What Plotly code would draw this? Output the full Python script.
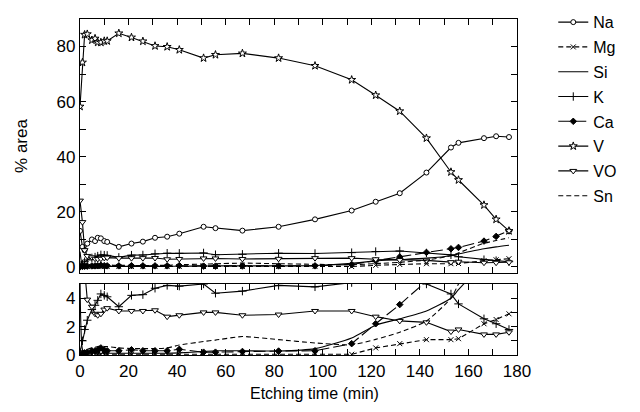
import plotly.graph_objects as go

# ---- data ----
time_min = [0, 1, 1.9, 3, 4.9, 6.2, 7.3, 8.6, 10, 11.2, 16, 21.2, 25.9, 30.9, 35.9, 40.9,
            50.9, 55.8, 66.9, 81.8, 96.8, 111.9, 121.8, 131.7, 142.7, 152.8, 155.9,
            166.4, 171.4, 176.7]

na = [13, 7.2, 5.9, 8.4, 9.9, 9.3, 10.5, 10.3, 9.3, 9.0, 7.2, 8.4, 9.1, 10.5, 10.9, 12.0,
      14.5, 14.0, 13.1, 14.5, 17.2, 20.4, 23.6, 26.7, 34.2, 43.3, 45.0, 46.7, 47.4, 47.1]
mg = [0.05, 0.05, 0.05, 0.05, 0.05, 0.05, 0.05, 0.05, 0.05, 0.05, 0.05, 0.05, 0.05, 0.05,
      0.05, 0.05, 0.05, 0.05, 0.05, 0.05, 0.05, 0.05, 0.5, 0.8, 1.08, 1.08, 1.15, 2.2, 2.5, 2.9]
si = [5.5, 0.4, 0.2, 0.15, 0.12, 0.12, 0.12, 0.12, 0.12, 0.12, 0.12, 0.12, 0.12, 0.12, 0.12,
      0.15, 0.25, 0.3, 0.3, 0.28, 0.45, 1.2, 2.1, 2.55, 3.1, 4.0, 4.6, 6.5, 7.2, 7.8]
k = [0.2, 1.0, 1.8, 2.45, 3.2, 3.5, 3.85, 4.3, 4.2, 4.1, 3.4, 4.2, 4.25, 4.7, 4.9, 4.85,
     5.0, 4.35, 4.5, 4.9, 4.8, 5.1, 5.5, 5.7, 5.0, 4.3, 3.6, 2.55, 2.2, 1.8]
ca = [0.0, 0.1, 0.15, 0.2, 0.28, 0.3, 0.35, 0.5, 0.35, 0.3, 0.3, 0.37, 0.3, 0.3, 0.3, 0.4,
      0.2, 0.2, 0.25, 0.28, 0.3, 0.8, 2.2, 3.55, 5.2, 6.5, 7.0, 9.3, 11.0, 13.0]
v = [58.2, 74.2, 84.3, 84.5, 82.3, 82.9, 81.5, 81.5, 82.0, 82.0, 84.8, 83.3, 81.9, 80.2,
     79.9, 78.8, 75.8, 77.0, 77.5, 75.8, 73.0, 67.9, 62.3, 56.5, 46.7, 34.4, 31.5, 22.4,
     17.2, 13.0]
vo = [24, 16.2, 6.0, 3.9, 3.4, 2.9, 2.8, 2.9, 3.2, 3.3, 3.1, 3.1, 3.1, 3.15, 2.7, 2.8,
      3.0, 3.0, 2.8, 2.85, 3.1, 3.1, 2.7, 2.4, 2.3, 1.65, 1.8, 1.45, 1.45, 1.6]
sn = [0.3, 0.3, 0.3, 0.4, 0.5, 0.55, 0.6, 0.63, 0.6, 0.6, 0.5, 0.45, 0.45, 0.45, 0.5, 0.7,
      0.95, 1.05, 1.3, 1.08, 0.85, 0.72, 1.1, 1.6, 2.4, 4.0, 5.0, 8.5, 9.5, 10.5]

series_names = ["Na", "Mg", "Si", "K", "Ca", "V", "VO", "Sn"]
series_values = [na, mg, si, k, ca, v, vo, sn]

x_tickvals = list(range(0, 181, 10))
x_ticktext = [str(t) if t % 20 == 0 else "" for t in x_tickvals]
y_top_tickvals = list(range(0, 91, 10))
y_top_ticktext = [str(t) if t % 20 == 0 else "" for t in y_top_tickvals]
y_bot_tickvals = [0, 1, 2, 3, 4, 5]
y_bot_ticktext = ["0", "", "2", "", "4", ""]
x_title = "Etching time (min)"
y_title = "% area"

# ---- styles ----
W = "white"
B = "black"
styles = {
    "Na": dict(mode="lines+markers", dash="solid",
               marker=dict(symbol="circle", size=5, color=W, line=dict(color=B, width=1))),
    "Mg": dict(mode="lines+markers", dash="5px,3px",
               marker=dict(symbol="x-thin-open", size=5, color=B, line=dict(color=B, width=1))),
    "Si": dict(mode="lines", dash="solid", marker=None),
    "K": dict(mode="lines+markers", dash="solid",
              marker=dict(symbol="cross-thin-open", size=6, color=B, line=dict(color=B, width=1))),
    "Ca": dict(mode="lines+markers", dash="12px,4px",
               marker=dict(symbol="diamond", size=5, color=B, line=dict(color=B, width=1))),
    "V": dict(mode="lines+markers", dash="solid",
              marker=dict(symbol="star", size=6, color=W, line=dict(color=B, width=1))),
    "VO": dict(mode="lines+markers", dash="solid",
               marker=dict(symbol="triangle-down", size=6, color=W, line=dict(color=B, width=1))),
    "Sn": dict(mode="lines", dash="5px,3px", marker=None),
}
smooth = {"Si", "Sn"}

fig = go.Figure()
for panel, (xa, ya) in enumerate([("x", "y"), ("x2", "y2")]):
    for name, vals in zip(series_names, series_values):
        st = styles[name]
        kw = dict(
            x=time_min, y=vals, name=name, mode=st["mode"],
            line=dict(color=B, width=1.1, dash=st["dash"],
                      shape="spline" if name in smooth else "linear",
                      smoothing=0.6 if name in smooth else None),
            xaxis=xa, yaxis=ya, showlegend=(panel == 0), legendgroup=name,
        )
        if st["marker"] is not None:
            kw["marker"] = st["marker"]
        fig.add_trace(go.Scatter(**kw))

font_family = "Liberation Sans, Arial, sans-serif"
axis_common = dict(showline=True, linecolor=B, linewidth=1.3, mirror="ticks",
                   ticks="inside", ticklen=6, tickwidth=1, tickcolor=B,
                   showgrid=False, zeroline=False,
                   tickfont=dict(family=font_family, size=17, color=B))

fig.update_layout(
    width=640, height=412,
    margin=dict(l=72, r=131, t=11, b=65, autoexpand=False),
    paper_bgcolor=W, plot_bgcolor=W,
    font=dict(family=font_family, size=17, color=B),
    xaxis=dict(domain=[0, 1], range=[0, 180], anchor="y", tickmode="array",
               tickvals=x_tickvals, ticktext=x_ticktext, showticklabels=False,
               **axis_common),
    yaxis=dict(domain=[0.244, 1], range=[-2.3, 90], anchor="x", tickmode="array",
               tickvals=y_top_tickvals, ticktext=y_top_ticktext,
               title=dict(text=y_title, font=dict(size=17), standoff=24),
               **axis_common),
    xaxis2=dict(domain=[0, 1], range=[0, 180], anchor="y2", tickmode="array",
                tickvals=x_tickvals, ticktext=x_ticktext,
                **axis_common),
    yaxis2=dict(domain=[0, 0.2113], range=[0, 5], anchor="x2", tickmode="array",
                tickvals=y_bot_tickvals, ticktext=y_bot_ticktext,
                **axis_common),
    legend=dict(x=1.083, y=1.041, xanchor="left", yanchor="top",
                font=dict(family=font_family, size=16, color=B),
                bgcolor="rgba(0,0,0,0)", borderwidth=0, tracegroupgap=1,
                itemwidth=30, maxheight=1.0),
    annotations=[dict(text=x_title, xref="paper", yref="paper", x=0.537, y=-0.116,
                      xanchor="center", yanchor="middle", showarrow=False,
                      font=dict(family=font_family, size=16, color=B))],
)

fig.write_html("out.html")
